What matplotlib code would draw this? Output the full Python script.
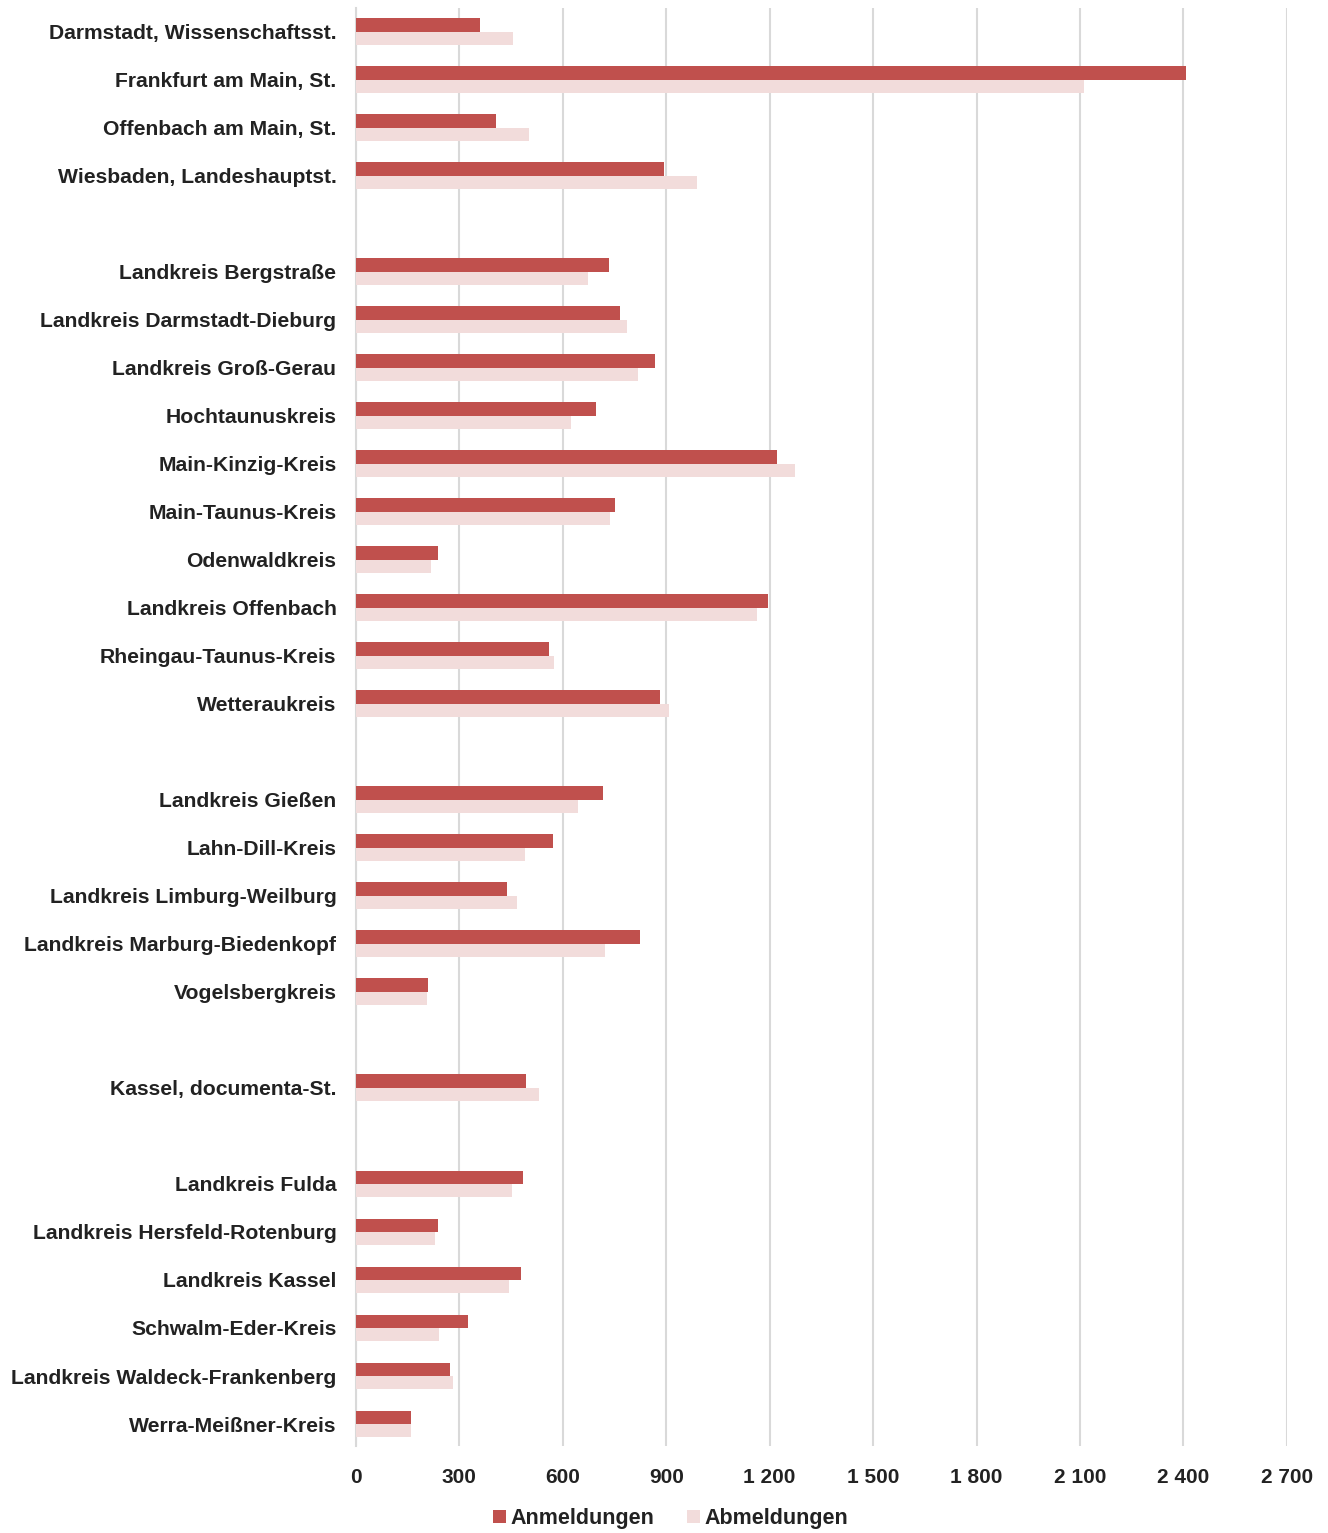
import numpy as np
import matplotlib
matplotlib.use("Agg")
import matplotlib.pyplot as plt

plt.rcParams['font.family'] = ['Liberation Sans', 'DejaVu Sans']

# None = empty spacer row between regions
labels = ["Darmstadt, Wissenschaftsst.", "Frankfurt am Main, St.", "Offenbach am Main, St.",
          "Wiesbaden, Landeshauptst.", None,
          "Landkreis Bergstraße", "Landkreis Darmstadt-Dieburg", "Landkreis Groß-Gerau",
          "Hochtaunuskreis", "Main-Kinzig-Kreis", "Main-Taunus-Kreis", "Odenwaldkreis",
          "Landkreis Offenbach", "Rheingau-Taunus-Kreis", "Wetteraukreis", None,
          "Landkreis Gießen", "Lahn-Dill-Kreis", "Landkreis Limburg-Weilburg",
          "Landkreis Marburg-Biedenkopf", "Vogelsbergkreis", None,
          "Kassel, documenta-St.", None,
          "Landkreis Fulda", "Landkreis Hersfeld-Rotenburg", "Landkreis Kassel",
          "Schwalm-Eder-Kreis", "Landkreis Waldeck-Frankenberg", "Werra-Meißner-Kreis"]
anmeldungen = [360, 2407, 406, 893, None,
               734, 766, 867, 696, 1221, 751, 238, 1195, 560, 882, None,
               716, 571, 438, 824, 209, None,
               493, None,
               484, 238, 479, 325, 273, 160]
abmeldungen = [455, 2111, 502, 989, None,
               673, 786, 818, 624, 1273, 737, 218, 1163, 574, 908, None,
               644, 490, 467, 722, 206, None,
               531, None,
               452, 229, 444, 241, 281, 160]

red = '#C0504D'
pink = '#F2DCDB'

fig = plt.figure(figsize=(13.28, 15.33), dpi=100)
ax = fig.add_axes([0.268, 0.057, 0.701, 0.938])

y = np.arange(len(labels))
h = 0.28
for i, (a, b) in enumerate(zip(anmeldungen, abmeldungen)):
    if a is None:
        continue
    ax.barh(i - h / 2, a, height=h, color=red, label='Anmeldungen' if i == 0 else None, zorder=3)
    ax.barh(i + h / 2, b, height=h, color=pink, label='Abmeldungen' if i == 0 else None, zorder=3)

ax.set_ylim(len(labels) - 0.55, -0.5)
ax.set_xlim(0, 2700)
ax.set_yticks(y)
ax.set_yticklabels([l if l else "" for l in labels], fontsize=15.2, fontweight='bold', color='#222222')
xt = np.arange(0, 2701, 300)
ax.set_xticks(xt)
ax.set_xticklabels([f"{v:,}".replace(",", " ") for v in xt], fontsize=15, fontweight='bold', color='#222222')
ax.tick_params(length=0, pad=16)
ax.tick_params(axis='y', pad=14)
ax.grid(axis='x', color='#D9D9D9', linewidth=1.5, zorder=0)
for s in ['top', 'right', 'bottom']:
    ax.spines[s].set_visible(False)
ax.spines['left'].set_color('#D9D9D9')
ax.spines['left'].set_linewidth(1.5)

fig.legend(loc='lower center', bbox_to_anchor=(0.505, -0.01), ncol=2, frameon=False,
           prop={'size': 15.5, 'weight': 'bold'}, handlelength=0.6, handleheight=0.6,
           handletextpad=0.2, columnspacing=1.5, labelcolor='#222222')

fig.savefig('out.png', dpi=100)
